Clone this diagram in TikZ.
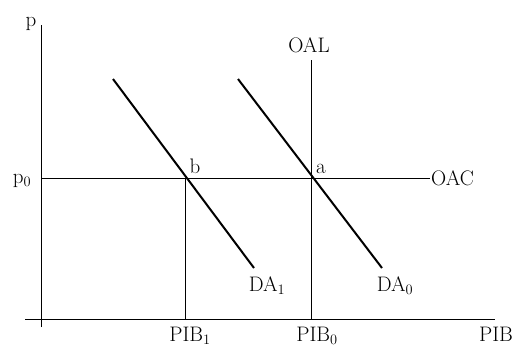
\documentclass[tikz,border=0pt]{standalone}
\begin{document}
\begin{tikzpicture}[x=1pt, y=-1pt, >=stealth,
    lbl/.style={anchor=base, inner sep=0pt, font=\fontsize{21}{24}\selectfont},
    demanda/.style={line width=2pt}]
    \useasboundingbox (0,0) rectangle (517,348);

    % ejes
    \coordinate (yarr) at (41.5,25);
    \coordinate (yab) at (41.5,327);
    \coordinate (xizq) at (25,319);
    \coordinate (xder) at (495,319);
    \draw[line width=1pt] (yab) -- (yarr);
    \draw[line width=1pt] (xizq) -- (xder);
    \node[lbl] (p) at (31,26) {p};
    \node[lbl] (pib) at (496,341) {PIB};

    % puntos de equilibrio
    \coordinate (a) at (311,178);
    \coordinate (b) at (185,178);

    % oferta agregada de corto plazo
    \coordinate (p0y) at (41.5,178);
    \coordinate (oacfin) at (430,178);
    \draw[line width=1pt] (p0y) -- (oacfin);
    \node[lbl] (p0) at (22,183) {p$_0$};
    \node[lbl, anchor=base west] (oac) at (431,185) {OAC};

    % oferta agregada de largo plazo
    \coordinate (oalini) at (311,60);
    \coordinate (pib0x) at (311,319);
    \draw[line width=1pt] (oalini) -- (pib0x);
    \node[lbl] (oal) at (309,52) {OAL};

    % PIB_1
    \coordinate (pib1x) at (185,319);
    \draw[line width=1pt] (b) -- (pib1x);
    \node[lbl] (pib1) at (190,341) {PIB$_1$};
    \node[lbl] (pib0) at (317,341) {PIB$_0$};

    % demandas agregadas
    \coordinate (da1ini) at (113,79);
    \coordinate (da1fin) at (254,268);
    \coordinate (da0ini) at (238,79);
    \coordinate (da0fin) at (382,268);
    \draw[demanda] (da1ini) -- (da1fin);
    \draw[demanda] (da0ini) -- (da0fin);
    \node[lbl] (da1) at (267,291) {DA$_1$};
    \node[lbl] (da0) at (395,291) {DA$_0$};

    % letras de los puntos
    \node[lbl] (la) at (321,173) {a};
    \node[lbl] (lb) at (195,173) {b};
\end{tikzpicture}
\end{document}
